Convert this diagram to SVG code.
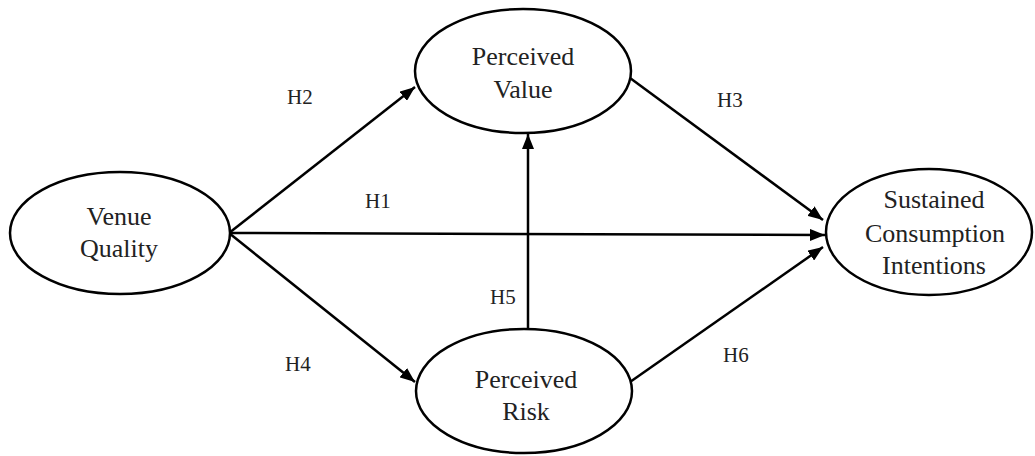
<svg xmlns="http://www.w3.org/2000/svg" width="1035" height="456" viewBox="0 0 1035 456">
<defs>
<marker id="arr" markerUnits="userSpaceOnUse" markerWidth="16" markerHeight="12" refX="15" refY="6" orient="auto">
<path d="M0,0 L15,6 L0,12 z" fill="#000"/>
</marker>
</defs>
<style>
.node ellipse{fill:#fff;stroke:#000;stroke-width:2.5}
.node text{font-family:"Liberation Serif","Times New Roman",serif;font-size:26px;fill:#222;text-anchor:middle}
.lbl{font-family:"Liberation Serif","Times New Roman",serif;font-size:21px;fill:#222}
.edge{stroke:#000;stroke-width:2.5;fill:none;marker-end:url(#arr)}
</style>
<rect width="1035" height="456" fill="#fff"/>
<g id="connectors">
<line class="edge" x1="229" y1="233" x2="415" y2="87"/>
<line class="edge" x1="229" y1="233" x2="825" y2="235"/>
<line class="edge" x1="229" y1="233" x2="415" y2="382"/>
<line class="edge" x1="630" y1="78" x2="823" y2="220"/>
<line class="edge" x1="630" y1="382" x2="823" y2="247"/>
<line class="edge" x1="528" y1="330" x2="528" y2="134"/>
</g>
<g id="labels">
<text class="lbl" x="287" y="104">H2</text>
<text class="lbl" x="717" y="107">H3</text>
<text class="lbl" x="365" y="208">H1</text>
<text class="lbl" x="490" y="304">H5</text>
<text class="lbl" x="285" y="371">H4</text>
<text class="lbl" x="723" y="362">H6</text>
</g>
<g id="venue-quality" class="node">
<ellipse cx="120" cy="233" rx="110" ry="61"/>
<text x="119" y="225">Venue</text>
<text x="119" y="257">Quality</text>
</g>
<g id="perceived-value" class="node">
<ellipse cx="523" cy="71" rx="108" ry="62"/>
<text x="523" y="65">Perceived</text>
<text x="523" y="98">Value</text>
</g>
<g id="perceived-risk" class="node">
<ellipse cx="524" cy="391" rx="108" ry="62"/>
<text x="526" y="388">Perceived</text>
<text x="526" y="420">Risk</text>
</g>
<g id="sustained-consumption-intentions" class="node">
<ellipse cx="929" cy="232" rx="103" ry="63"/>
<text x="934" y="208">Sustained</text>
<text x="935" y="242">Consumption</text>
<text x="934" y="274">Intentions</text>
</g>
</svg>
